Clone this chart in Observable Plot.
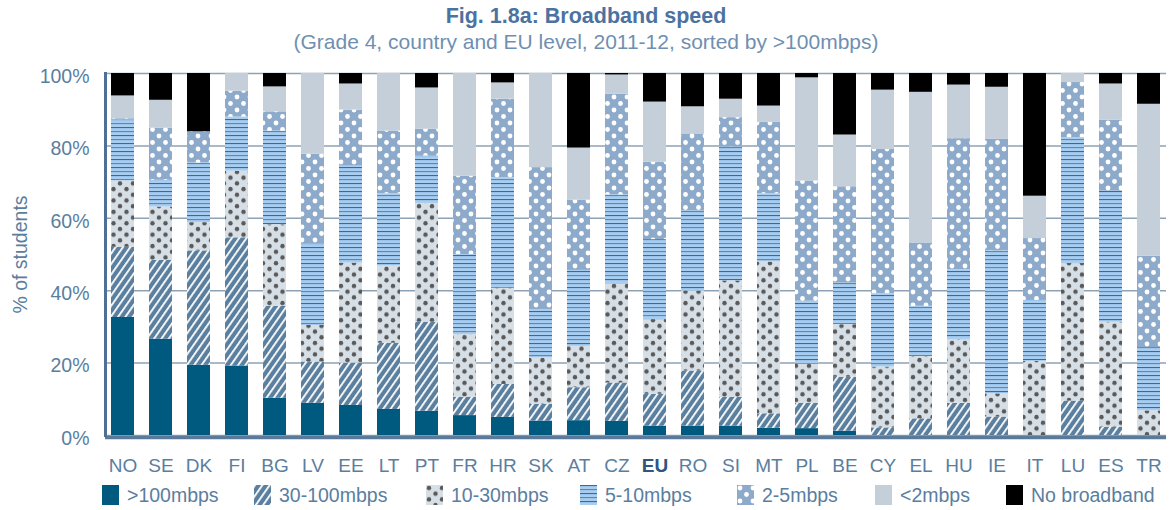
<!DOCTYPE html>
<html>
<head>
<meta charset="utf-8">
<script src="https://cdn.jsdelivr.net/npm/d3@7"></script>
<script src="https://cdn.jsdelivr.net/npm/@observablehq/plot@0.6"></script>
<style>
  body { margin: 0; background: #fff; font-family: "Liberation Sans", Arial, sans-serif; }
  #wrap { position: relative; width: 1172px; height: 510px; }
  #title { position: absolute; left: 0; width: 1172px; top: 3px; text-align: center; font-weight: bold; font-size: 21.5px; color: #4b72a0; line-height: 26px; }
  #subtitle { position: absolute; left: 0; width: 1172px; top: 29px; text-align: center; font-size: 21px; color: #6f8fb2; line-height: 26px; }
  #chart { position: absolute; left: 0; top: 55px; }
  .lg { position: absolute; top: 484px; height: 22px; display: flex; align-items: center; font-size: 19.5px; color: #5a7ea0; }
</style>
</head>
<body>
<svg width="0" height="0" style="position:absolute">
  <defs>
    <pattern id="p30" patternUnits="userSpaceOnUse" width="6" height="6" patternTransform="rotate(35)">
      <rect width="6" height="6" fill="#5a7f9f"/>
      <rect x="0" y="0" width="1.8" height="6" fill="#ffffff"/>
    </pattern>
    <pattern id="p10" patternUnits="userSpaceOnUse" width="13" height="11.4">
      <rect width="13" height="11.4" fill="#d6dee6"/>
      <circle cx="3" cy="3" r="2.2" fill="#5a5a5a"/>
      <circle cx="9.5" cy="8.7" r="2.2" fill="#5a5a5a"/>
    </pattern>
    <pattern id="p5" patternUnits="userSpaceOnUse" width="8" height="8">
      <rect width="8" height="8" fill="#a9cdef"/>
      <rect y="0" width="8" height="1.1" fill="#1a72c8"/>
      <rect y="4" width="8" height="1.1" fill="#3f8fd8"/>
    </pattern>
    <pattern id="p2" patternUnits="userSpaceOnUse" width="13" height="13">
      <rect width="13" height="13" fill="#8eaacb"/>
      <circle cx="3" cy="3" r="2.4" fill="#ffffff"/>
      <circle cx="9.5" cy="9.5" r="2.4" fill="#ffffff"/>
    </pattern>
  </defs>
</svg>
<div id="wrap">
  <div id="title">Fig. 1.8a: Broadband speed</div>
  <div id="subtitle">(Grade 4, country and EU level, 2011-12, sorted by &gt;100mbps)</div>
  <div id="chart"></div>
  <div id="legend"></div>
</div>
<script>
const countries = ["NO","SE","DK","FI","BG","LV","EE","LT","PT","FR","HR","SK","AT","CZ","EU","RO","SI","MT","PL","BE","CY","EL","HU","IE","IT","LU","ES","TR"];
const categories = [">100mbps","30-100mbps","10-30mbps","5-10mbps","2-5mbps","<2mbps","No broadband"];

const gt100   = [32.6,26.6,19.4,19.2,10.3,8.9,8.3,7.2,6.7,5.5,5.0,4.0,4.1,3.9,2.6,2.6,2.6,2.0,1.9,1.2,0,0,0,0,0,0,0,0];
const m30_100 = [19.4,21.8,31.6,35.4,25.4,11.4,11.7,18.3,24.6,5.1,9.1,4.6,9.1,10.6,8.8,15.2,7.9,4.0,7.0,14.9,2.1,4.6,8.9,5.1,0,9.5,2.3,0];
const m10_30  = [18.3,14.7,7.8,18.4,22.5,10.1,27.6,21.3,32.8,17.3,26.6,12.8,11.4,27.4,20.6,22.1,32.2,41.9,10.8,14.5,16.8,17.2,17.6,6.4,20.5,38.0,29.0,6.8];
const m5_10   = [16.8,7.4,16.5,15.0,25.9,22.4,26.8,20.0,13.1,22.1,30.5,13.4,21.0,24.6,22.1,22.1,37.0,18.9,17.4,11.5,20.3,13.9,19.3,39.5,16.8,34.8,36.2,17.5];
const m2_5    = [0.4,14.4,8.6,7.1,5.3,24.9,15.5,17.3,7.4,21.6,21.7,39.2,19.4,27.8,21.4,21.3,8.1,19.7,33.2,26.6,39.8,17.5,36.2,30.8,17.1,15.2,19.6,25.2];
const lt2     = [6.3,7.7,0,4.9,6.9,22.3,7.2,15.9,11.4,28.4,4.5,26.0,14.4,5.3,16.6,7.5,5.1,4.5,28.5,14.3,16.4,41.6,14.8,14.4,11.7,2.5,10.0,42.0];
const none    = [6.2,7.4,16.1,0,3.7,0,2.9,0,4.0,0,2.6,0,20.6,0.4,7.9,9.2,7.1,9.0,1.2,17.0,4.6,5.2,3.2,3.8,33.9,0,2.9,8.5];

const yTicks = [0,20,40,60,80,100];
const fills = ["#005a80","url(#p30)","url(#p10)","url(#p5)","url(#p2)","#c5cfd9","#000000"];

const series = [gt100, m30_100, m10_30, m5_10, m2_5, lt2, none];
const table = categories.flatMap((c, i) => countries.map((k, j) => ({country: k, category: c, value: series[i][j]})));

const tickColor = "#5a7ea0";
const chart = Plot.plot({
  width: 1172,
  height: 423,
  marginLeft: 105,
  marginRight: 6,
  marginTop: 18,
  marginBottom: 43,
  style: {fontFamily: "'Liberation Sans', Arial, sans-serif", fontSize: "19px", color: tickColor, background: "white", overflow: "visible"},
  x: {domain: countries, paddingInner: 0.4, paddingOuter: 0.065},
  y: {domain: [0, 100]},
  color: {type: "ordinal", domain: categories, range: fills},
  marks: [
    Plot.gridY(yTicks, {stroke: "#8ea2b5", strokeOpacity: 1, strokeWidth: 1.5}),
    Plot.barY(table, {x: "country", y: "value", fill: "category"}),
    Plot.ruleY([0], {stroke: "#5b7999", strokeWidth: 3.5, dy: 2}),
    Plot.frame({anchor: "left", stroke: "#4e7095", strokeWidth: 3}),
    Plot.axisY(yTicks, {tickSize: 0, tickPadding: 16, tickFormat: d => d + "%", label: "% of students", labelAnchor: "center", labelOffset: 92, labelArrow: "none", fontSize: 19.5, color: tickColor, fill: tickColor, dy: 3}),
    Plot.axisX(countries.filter(c => c !== "EU"), {tickSize: 0, tickPadding: 23, label: null, fontSize: 19, color: tickColor, fill: tickColor}),
    Plot.axisX(["EU"], {tickSize: 0, tickPadding: 23, label: null, fontSize: 19, fontWeight: "bold", color: "#2f5580", fill: "#2f5580"})
  ]
});
document.getElementById("chart").appendChild(chart);

// Legend
const legendSwatchX = [102, 254, 426, 580, 737, 875, 1006];
const legend = document.getElementById("legend");
categories.forEach((c, i) => {
  const item = document.createElement("div");
  item.className = "lg";
  item.style.left = legendSwatchX[i] + "px";
  item.innerHTML = `<svg width="17" height="20" style="margin-right:8px"><rect width="17" height="20" fill="${fills[i]}"/></svg><span>${c.replace("<","&lt;").replace(">","&gt;")}</span>`;
  legend.appendChild(item);
});
</script>
</body>
</html>
